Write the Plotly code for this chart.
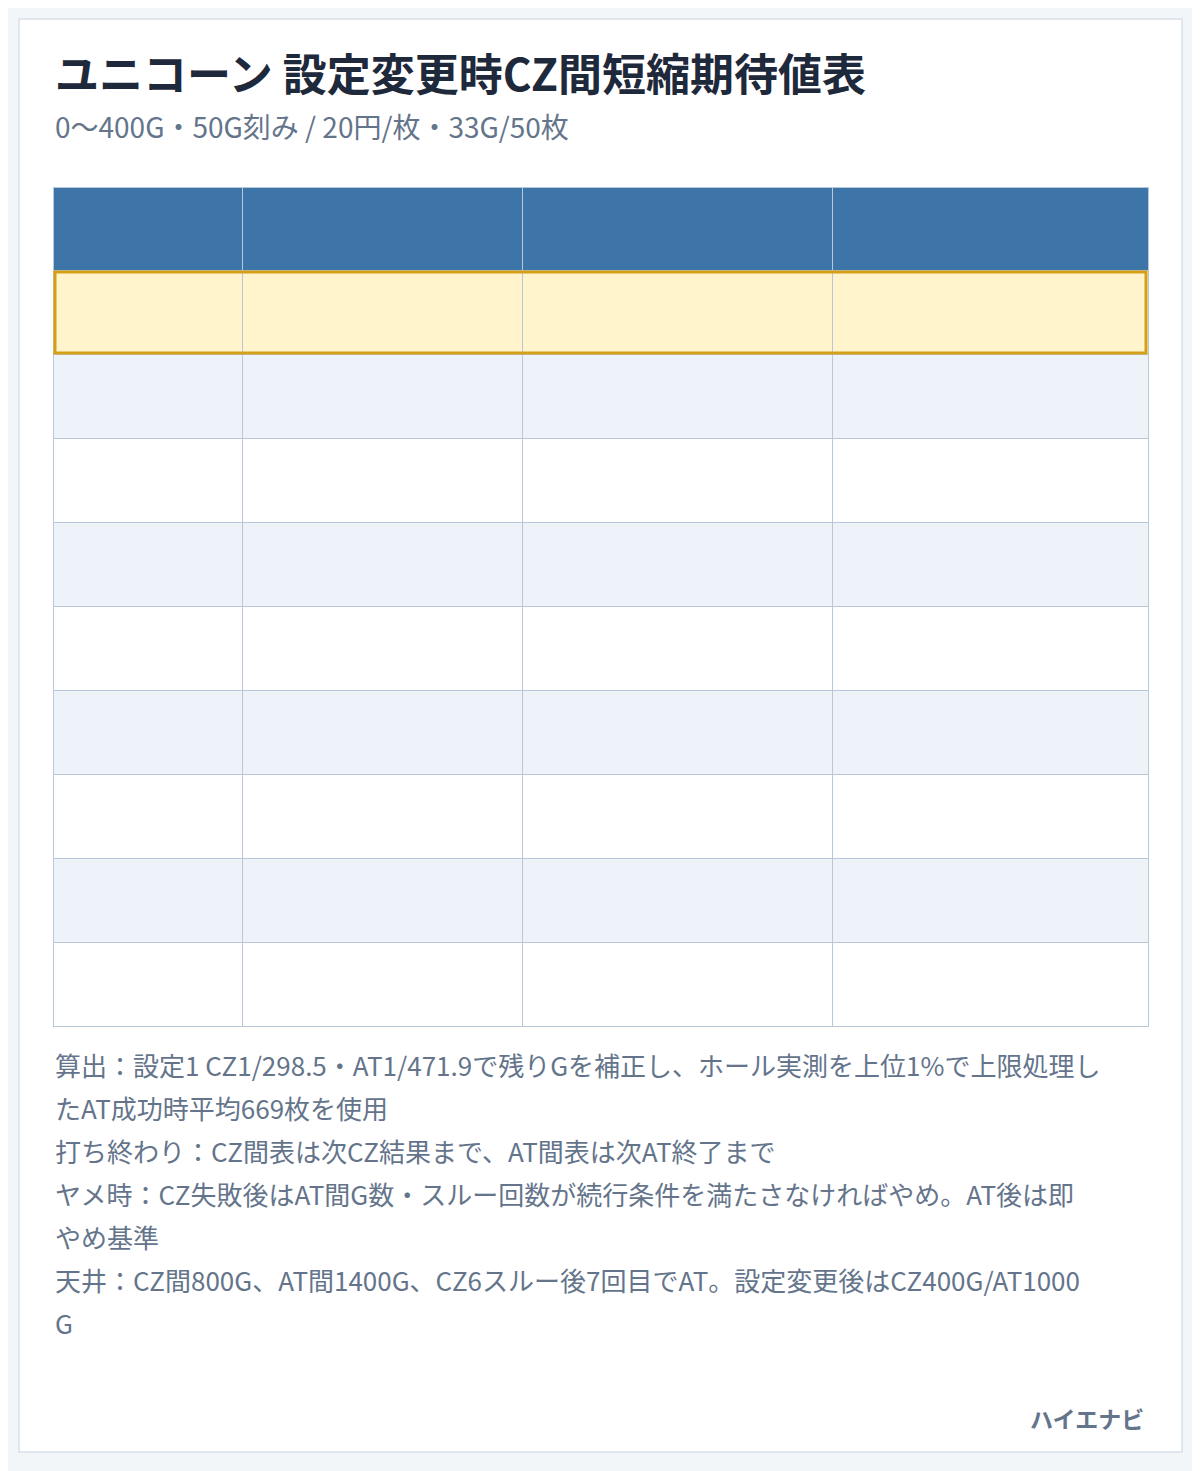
import plotly.graph_objects as go

W, H = 1200, 1471
FONT = "Noto Sans CJK JP"
OFF = 8  # page body margin shift

title = "ユニコーン 設定変更時CZ間短縮期待値表"
subtitle = "0〜400G・50G刻み / 20円/枚・33G/50枚"
headers = ["開始G", "期待値", "投資目安", "残り平均"]
start_g = ["0G", "50G", "100G", "150G", "200G", "250G", "300G", "350G", "400G"]
expect = ["+1,477円", "+1,959円", "+2,520円", "+3,174円", "+3,935円",
          "+4,823円", "+5,856円", "+7,061円", "+8,464円"]
invest = ["6,987円", "6,505円", "5,944円", "5,290円", "4,528円",
          "3,641円", "2,607円", "1,403円", "0円"]
remain = ["230.6G", "214.7G", "196.1G", "174.6G", "149.4G",
          "120.2G", "86.0G", "46.3G", "0.0G"]
notes = [
    "算出：設定1 CZ1/298.5・AT1/471.9で残りGを補正し、ホール実測を上位1%で上限処理し",
    "たAT成功時平均669枚を使用",
    "打ち終わり：CZ間表は次CZ結果まで、AT間表は次AT終了まで",
    "ヤメ時：CZ失敗後はAT間G数・スルー回数が続行条件を満たさなければやめ。AT後は即",
    "やめ基準",
    "天井：CZ間800G、AT間1400G、CZ6スルー後7回目でAT。設定変更後はCZ400G/AT1000",
    "G",
]
brand = "ハイエナビ"

def px_(v):
    return (v - OFF) / W

def py(v):
    return 1 - (v - OFF) / H

n = len(start_g)
cols = [start_g, expect, invest, remain]
col_colors = ["#1e293b", "#0f8a5f", "#1e293b", "#1e293b"]
row_fill = ["#fff4cc"] + ["#eef3fa" if i % 2 == 1 else "#ffffff" for i in range(1, n)]
edges = [53, 242, 522, 832, 1148]
col_w = [edges[i + 1] - edges[i] for i in range(4)]
ty0, hh, rh = 187, 83, 84
ty1 = ty0 + hh + rh * n

fig = go.Figure(go.Table(
    columnwidth=col_w,
    domain=dict(x=[px_(edges[0]), px_(edges[-1])], y=[py(ty1 + 2), py(ty0)]),
    header=dict(values=[""] * 4, height=hh, fill_color="#3d75a8",
                line=dict(color="#b8c8d8", width=1)),
    cells=dict(values=[[""] * n] * 4, height=rh,
               fill_color=[row_fill] * 4,
               line=dict(color="#b8c8d8", width=1)),
))

# cell text on a pixel-space overlay axis
for j in range(4):
    cx = (edges[j] + edges[j + 1]) / 2 - OFF
    fig.add_trace(go.Scatter(
        x=[cx], y=[ty0 + hh / 2 - OFF], mode="text", text=[headers[j]],
        textfont=dict(family=FONT, size=32, color="white", weight="bold"),
        hoverinfo="skip", showlegend=False))
    fig.add_trace(go.Scatter(
        x=[cx] * n, y=[ty0 + hh + rh * (i + 0.5) - OFF for i in range(n)],
        mode="text", text=cols[j],
        textfont=dict(family=FONT, size=34, color=col_colors[j], weight="bold"),
        hoverinfo="skip", showlegend=False))

shapes = [
    dict(type="rect", xref="paper", yref="paper", x0=px_(19), x1=px_(1182),
         y0=py(1452), y1=py(19), fillcolor="white",
         line=dict(color="#d8e0e8", width=1.5), layer="below"),
    dict(type="rect", xref="paper", yref="paper", x0=px_(edges[0] + 2), x1=px_(edges[-1] - 2),
         y0=py(ty0 + hh + rh - 1), y1=py(ty0 + hh + 2),
         line=dict(color="#d4a017", width=3), layer="above"),
]

ann = [
    dict(text=f"<b>{title}</b>", x=px_(53), y=py(72), xanchor="left", yanchor="middle",
         font=dict(family=FONT, size=44, color="#1e293b")),
    dict(text=subtitle, x=px_(53), y=py(126), xanchor="left", yanchor="middle",
         font=dict(family=FONT, size=28, color="#64748b")),
    dict(text=f"<b>{brand}</b>", x=px_(1146), y=py(1418), xanchor="right", yanchor="middle",
         font=dict(family=FONT, size=23, color="#64748b")),
]
for i, line in enumerate(notes):
    ann.append(dict(text=line, x=px_(53), y=py(1064 + 43 * i), xanchor="left",
                    yanchor="middle", font=dict(family=FONT, size=26, color="#64748b")))
for a in ann:
    a.update(xref="paper", yref="paper", showarrow=False)

fig.update_layout(width=W, height=H, margin=dict(l=0, r=0, t=0, b=0),
                  paper_bgcolor="#f3f6f9", plot_bgcolor="rgba(0,0,0,0)",
                  xaxis=dict(range=[0, W], visible=False, fixedrange=True),
                  yaxis=dict(range=[H, 0], visible=False, fixedrange=True),
                  shapes=shapes, annotations=ann)
fig.write_html("out.html")
